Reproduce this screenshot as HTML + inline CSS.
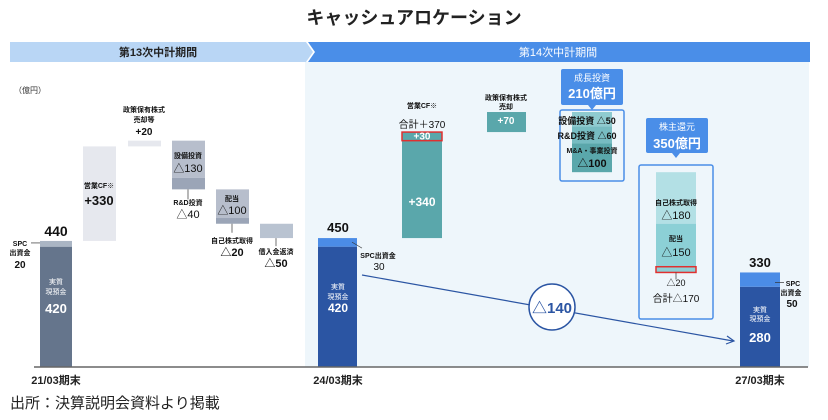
<!DOCTYPE html>
<html><head><meta charset="utf-8">
<style>
body{margin:0;background:#fff;}
svg{display:block;font-family:"Liberation Sans","Noto Sans CJK JP",sans-serif;}
</style></head>
<body>
<svg id="c" width="828" height="420" viewBox="0 0 828 420">
<text x="414" y="24" text-anchor="middle" font-size="18" font-weight="bold" fill="#222">キャッシュアロケーション</text>
<rect x="305" y="62" width="504" height="305" fill="#eef6fb"/>
<polygon points="10,42 306,42 313,52 306,62 10,62" fill="#b9d6f5"/>
<text x="158" y="56" text-anchor="middle" font-size="11" font-weight="bold" fill="#222">第13次中計期間</text>
<polygon points="308,42 810,42 810,62 308,62 315,52" fill="#4a8ee8"/>
<text x="558" y="56" text-anchor="middle" font-size="11" fill="#fff">第14次中計期間</text>
<text x="14" y="93" font-size="8" fill="#333">（億円）</text>
<g id="marks"></g>
<line x1="34" y1="367" x2="808" y2="367" stroke="#666" stroke-width="1.5"/>
<text x="56" y="384" text-anchor="middle" font-size="11" font-weight="bold" fill="#222">21/03期末</text>
<text x="338" y="384" text-anchor="middle" font-size="11" font-weight="bold" fill="#222">24/03期末</text>
<text x="760" y="384" text-anchor="middle" font-size="11" font-weight="bold" fill="#222">27/03期末</text>
<text x="10" y="408" font-size="15" fill="#222">出所：決算説明会資料より掲載</text>
</svg>
<script>
const start13 = [420, 20];
const steps13 = [330, 20, -130, -40, -100, -20, -50];
const start14 = [420, 30];
const opcf14 = [340, 30];
const sale14 = [70];
const growth14 = [-50, -60, -100];
const holder14 = [-180, -150, -20];
const end14 = [280, 50];

const NS = "http://www.w3.org/2000/svg";
const g = document.getElementById('marks');
const BASE = 367, K = 0.2865;
function y(v){ return BASE - v*K; }
function el(tag, attrs, parent){ const e=document.createElementNS(NS,tag); for(const k in attrs) e.setAttribute(k,attrs[k]); (parent||g).appendChild(e); return e; }
function bar(x,w,v0,v1,fill,name,stroke){
  const r=el('rect',{x:x,y:y(Math.max(v0,v1)),width:w,height:Math.abs(y(v0)-y(v1)),fill:fill});
  if(stroke){r.setAttribute('stroke',stroke);r.setAttribute('stroke-width','1.5');}
  
  
  return r;
}
function txt(x,yy,s,size,fill,bold,name,anchor){
  const t=el('text',{x:x,y:yy,'font-size':size,fill:fill,'text-anchor':anchor||'middle','font-weight':bold?'bold':'normal'});
  t.textContent=s;
  
  
  return t;
}
// 13th plan
const s13total = start13[0]+start13[1];
bar(40,32,0,start13[0],'#65758c','bar-2103-cash');
bar(40,32,start13[0],s13total,'#aab5c4','bar-2103-spc');
txt(56,236,String(s13total),14,'#111',true,'total-2103');
txt(56,284,'実質',7,'#fff',false,'cash-label-2103');
txt(56,294,'現預金',7,'#fff',false,'cash-label-2103b');
txt(56,313,String(start13[0]),13,'#fff',true,'cash-value-2103');
el('line',{x1:31,y1:y(s13total)+2,x2:40,y2:y(s13total)+2,stroke:'#333','stroke-width':0.7});
txt(20,246,'SPC',7,'#111',true,'spc-label-2103');
txt(20,255,'出資金',7,'#111',true,'spc-label-2103b');
txt(20,268,String(start13[1]),10,'#111',true,'spc-value-2103');
const xs13=[83,128,172,172,216,216,260];
const cols13=['#e6e8ee','#e6e8ee','#b7becc','#9ba5b7','#b7becc','#9ba5b7','#b9c3d1'];
const names13=['bar-opcf-13','bar-stock-sale-13','bar-capex-13','bar-rd-13','bar-dividend-13','bar-buyback-13','bar-loan-repay-13'];
let cum=s13total; const ends13=[];
steps13.forEach((d,i)=>{ bar(xs13[i],33,cum,cum+d,cols13[i],names13[i]); ends13.push([cum,cum+d]); cum+=d; });
const f=v=>(v>0?'+':'△')+Math.abs(v);
txt(99,188,'営業CF※',7,'#111',true,'opcf-13-label');
txt(99,205,f(steps13[0]),13,'#111',true,'opcf-13-value');
txt(144,112,'政策保有株式',7,'#111',true,'sale-13-label');
txt(144,122,'売却等',7,'#111',true,'sale-13-labelb');
txt(144,135,f(steps13[1]),10,'#111',true,'sale-13-value');
txt(188,158,'設備投資',7,'#111',true,'capex-label');
txt(188,172,f(steps13[2]),11,'#111',false,'capex-value');
el('line',{x1:188,y1:y(ends13[3][1]),x2:188,y2:y(ends13[3][1])+10,stroke:'#333','stroke-width':0.7});
txt(188,205,'R&D投資',7,'#111',true,'rd-label');
txt(188,218,f(steps13[3]),11,'#111',false,'rd-value');
txt(232,201,'配当',7,'#111',true,'dividend-label');
txt(232,214,f(steps13[4]),11,'#111',false,'dividend-value');
el('line',{x1:232,y1:y(ends13[5][1]),x2:232,y2:y(ends13[5][1])+9,stroke:'#333','stroke-width':0.7});
txt(232,243,'自己株式取得',7,'#111',true,'buyback-label');
txt(232,256,f(steps13[5]),11,'#111',true,'buyback-value');
el('line',{x1:276,y1:y(ends13[6][1]),x2:276,y2:y(ends13[6][1])+8,stroke:'#333','stroke-width':0.7});
txt(276,254,'借入金返済',7,'#111',true,'loan-label');
txt(276,267,f(steps13[6]),11,'#111',true,'loan-value');
// 14th plan
const s14=start14[0]+start14[1];
bar(318,39,0,start14[0],'#2b55a3','bar-2403-cash');
bar(318,39,start14[0],s14,'#4b8ce6','bar-2403-spc');
txt(338,232,String(s14),13,'#111',true,'total-2403');
txt(338,289,'実質',7,'#fff',false,'cash-label-2403');
txt(338,299,'現預金',7,'#fff',false,'cash-label-2403b');
txt(338,312,String(start14[0]),12,'#fff',true,'cash-value-2403');
el('line',{x1:352,y1:y(s14)+4,x2:362,y2:y(s14)+10,stroke:'#333','stroke-width':0.6});
txt(378,258,'SPC出資金',7,'#111',true,'spc-label-2403');
txt(379,270,String(start14[1]),10,'#111',false,'spc-value-2403');
cum=s14;
bar(402,40,cum,cum+opcf14[0],'#5aa7ab','bar-opcf-14'); const o1=cum+opcf14[0];
bar(402,40,o1,o1+opcf14[1],'#5aa7ab','bar-opcf-14-extra','#e03030'); cum=o1+opcf14[1];
txt(422,206,f(opcf14[0]),12,'#fff',true,'opcf-14-value');
txt(422,y(o1)-1,f(opcf14[1]),10,'#fff',true,'opcf-14-extra-value');
txt(422,108,'営業CF※',7,'#111',true,'opcf-14-label');
txt(422,128,'合計＋'+(opcf14[0]+opcf14[1]),10,'#111',false,'opcf-14-total');
bar(487,39,cum,cum+sale14[0],'#5aa7ab','bar-stock-sale-14');
txt(506,y(cum+sale14[0])+12,f(sale14[0]),10,'#fff',true,'sale-14-value');
txt(506,100,'政策保有株式',7,'#111',true,'sale-14-label');
txt(506,109,'売却',7,'#111',true,'sale-14-labelb');
cum+=sale14[0];
// growth
const gcols=['#8fcbd0','#77bcc2','#5aa7ab'];
const gnames=['bar-growth-capex','bar-growth-rd','bar-growth-ma'];
const glabels=['設備投資','R&D投資','M&A・事業投資'];
let gy=[];
growth14.forEach((d,i)=>{ bar(572,40,cum,cum+d,gcols[i],gnames[i]); gy.push([cum,cum+d]); cum+=d; });
el('rect',{x:560,y:110,width:64,height:71,fill:'none',stroke:'#4a8ee8','stroke-width':1.5,rx:2});
el('rect',{x:561,y:69,width:62,height:36,fill:'#4a8ee8',rx:2});
el('polygon',{points:'588,105 596,105 592,110',fill:'#4a8ee8'});
txt(592,81,'成長投資',9,'#fff',false,'growth-title');
txt(592,98,'210億円',13,'#fff',true,'growth-total');
txt(587,124,'設備投資 '+f(growth14[0]),9,'#111',true,'growth-capex-label');
txt(587,139,'R&D投資 '+f(growth14[1]),9,'#111',true,'growth-rd-label');
txt(592,153,'M&A・事業投資',7,'#111',true,'growth-ma-label');
txt(592,167,f(growth14[2]),11,'#111',true,'growth-ma-value');
// shareholders
const hcols=['#b3e0e5','#8cd0d6','#8cd0d6'];
const hnames=['bar-holder-buyback','bar-holder-dividend','bar-holder-extra'];
let hy=[];
holder14.forEach((d,i)=>{ bar(656,40,cum,cum+d,hcols[i],hnames[i],i==2?'#e03030':null); hy.push([cum,cum+d]); cum+=d; });
el('rect',{x:639,y:165,width:74,height:154,fill:'none',stroke:'#4a8ee8','stroke-width':1.5,rx:2});
el('rect',{x:646,y:118,width:62,height:35,fill:'#4a8ee8',rx:2});
el('polygon',{points:'672,153 680,153 676,158',fill:'#4a8ee8'});
txt(677,130,'株主還元',9,'#fff',false,'holder-title');
txt(677,148,'350億円',13,'#fff',true,'holder-total');
txt(676,205,'自己株式取得',7,'#111',true,'holder-buyback-label');
txt(676,219,f(holder14[0]),11,'#111',false,'holder-buyback-value');
txt(676,241,'配当',7,'#111',true,'holder-dividend-label');
txt(676,256,f(holder14[1]),11,'#111',false,'holder-dividend-value');
el('line',{x1:676,y1:y(hy[2][1]),x2:676,y2:y(hy[2][1])+7,stroke:'#333','stroke-width':0.7});
txt(676,286,f(holder14[2]),9,'#111',false,'holder-extra-value');
txt(676,302,'合計'+f(holder14[1]+holder14[2]),10,'#111',false,'holder-sum');
// end bar
const e14=end14[0]+end14[1];
bar(740,40,0,end14[0],'#2b55a3','bar-2703-cash');
bar(740,40,end14[0],e14,'#4b8ce6','bar-2703-spc');
txt(760,267,String(e14),13,'#111',true,'total-2703');
txt(760,312,'実質',7,'#fff',false,'cash-label-2703');
txt(760,321,'現預金',7,'#fff',false,'cash-label-2703b');
txt(760,342,String(end14[0]),13,'#fff',true,'cash-value-2703');
el('line',{x1:775,y1:y(e14)+10,x2:784,y2:y(e14)+10,stroke:'#333','stroke-width':0.7});
txt(793,286,'SPC',7,'#111',true,'spc-label-2703');
txt(791,295,'出資金',7,'#111',true,'spc-label-2703b');
txt(792,307,String(end14[1]),10,'#111',true,'spc-value-2703');
// decrease arrow
const diff=start14[0]-end14[0];
el('line',{x1:362,y1:275,x2:733,y2:341,stroke:'#2b55a3','stroke-width':1.2});
el('polyline',{points:'727,336 734,341 726,344',fill:'none',stroke:'#2b55a3','stroke-width':1.2});
el('circle',{cx:552,cy:307,r:23,fill:'#fff',stroke:'#2b55a3','stroke-width':1.5});
const dt=txt(552,313,'△'+diff,15,'#2b55a3',true,'cash-decrease-value');
</script>
</body></html>
